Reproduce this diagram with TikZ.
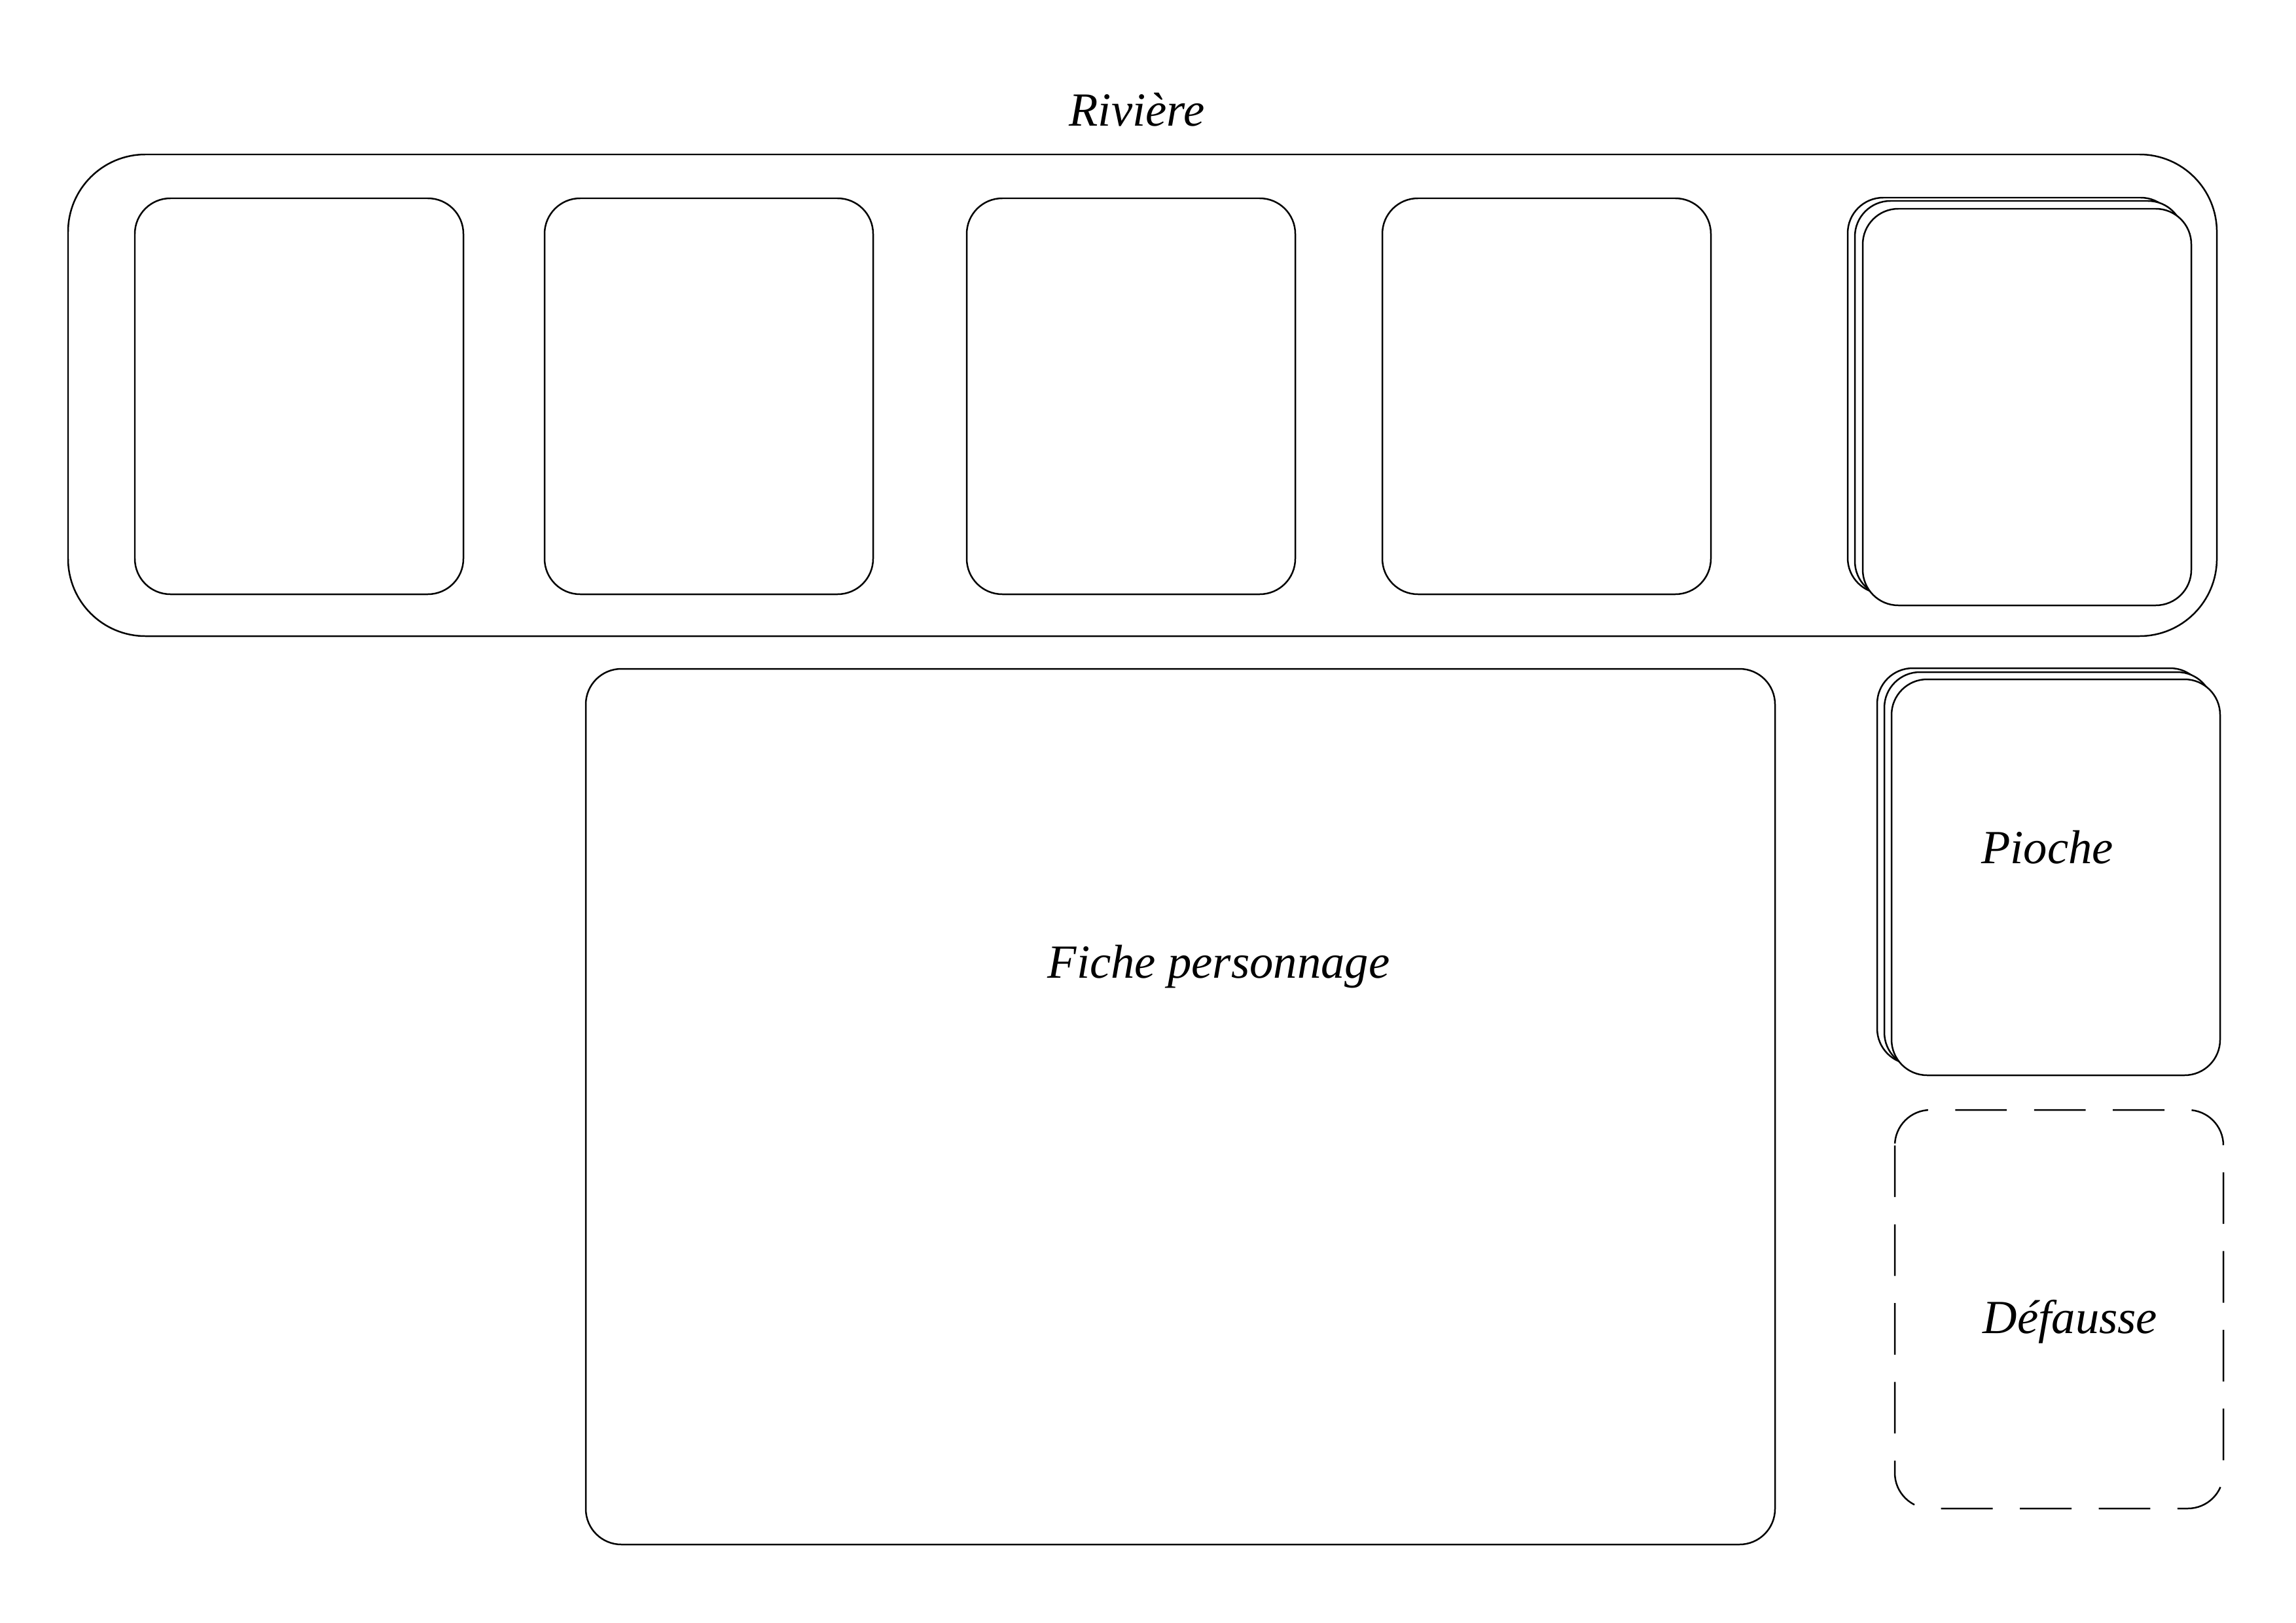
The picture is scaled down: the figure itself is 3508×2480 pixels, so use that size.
\documentclass[tikz,border=0pt]{standalone}
\usepackage{fontspec}
\setmainfont{Liberation Serif}
\begin{document}
\begin{tikzpicture}[x=0.08466mm,y=-0.08466mm,
  cardbox/.style={draw=black,line width=0.6pt,fill=white,rounded corners=4.6mm},
  zonebox/.style={draw=black,line width=0.6pt,rounded corners=10mm},
  dashbox/.style={draw=black,line width=0.6pt,rounded corners=4.6mm,dash pattern=on 19pt off 10pt},
  lbl/.style={font=\fontsize{17.5}{20}\selectfont\itshape,anchor=base,inner sep=0pt}]
\useasboundingbox (0,0) rectangle (3508,2480);
% Riviere zone
\draw[zonebox] (104,236) rectangle (3387,972);
\node[lbl] (riviere) at (1737,193) {Rivière};
% four cards
\draw[cardbox] (206,303) rectangle (708,908);
\draw[cardbox] (832,303) rectangle (1334,908);
\draw[cardbox] (1477,303) rectangle (1979,908);
\draw[cardbox] (2112,303) rectangle (2614,908);
% stacked card in riviere
\draw[cardbox] (2823,302) rectangle (3325,907);
\draw[cardbox] (2834,307) rectangle (3336,912);
\draw[cardbox] (2846,319) rectangle (3348,925);
% Fiche personnage
\draw[cardbox] (895,1022) rectangle (2712,2360);
\node[lbl] (fiche) at (1862,1494) {Fiche personnage};
% Pioche stack
\draw[cardbox] (2868,1021) rectangle (3370,1626);
\draw[cardbox] (2879,1027) rectangle (3381,1632);
\draw[cardbox] (2890,1038) rectangle (3392,1643);
\node[lbl] (pioche) at (3128,1319) {Pioche};
% Defausse
\draw[dashbox] (2895,1696) rectangle (3397,2305);
\node[lbl] (defausse) at (3163,2037) {Défausse};
\end{tikzpicture}
\end{document}
